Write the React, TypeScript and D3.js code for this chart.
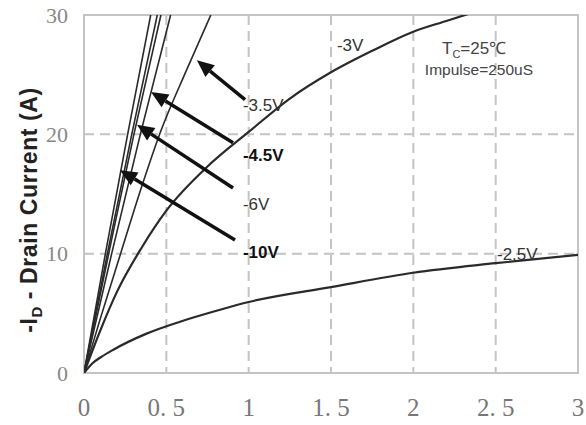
import React from "react";
import * as d3 from "d3";

// ---- data ----
const xTicks = [0, 0.5, 1, 1.5, 2, 2.5, 3];
const xTickLabels = ["0", "0. 5", "1", "1. 5", "2", "2. 5", "3"];
const yTicks = [0, 10, 20, 30];
const yTickLabels = ["0", "10", "20", "30"];

const vds10 = [0, 0.13, 0.265, 0.405];
const id10 = [0, 10, 20, 30];
const vds8 = [0, 0.142, 0.29, 0.445];
const id8 = [0, 10, 20, 30];
const vds6 = [0, 0.15, 0.303, 0.467];
const id6 = [0, 10, 20, 30];
const vds45 = [0, 0.168, 0.342, 0.526];
const id45 = [0, 10, 20, 30];
const vds35 = [0, 0.1, 0.229, 0.35, 0.47, 0.62, 0.77];
const id35 = [0, 4.6, 10.3, 15.6, 20.4, 25.3, 30];
const vds3 = [0, 0.1, 0.2, 0.35, 0.5, 0.75, 1, 1.25, 1.5, 1.75, 2, 2.2, 2.36];
const id3 = [0, 3.6, 6.8, 10.5, 13.6, 17.3, 20.2, 23.0, 25.2, 27.0, 28.6, 29.5, 30.2];
const vds25 = [0, 0.05, 0.1, 0.178, 0.38, 0.583, 0.826, 1, 1.5, 2, 2.5, 3];
const id25 = [0, 0.8, 1.3, 1.95, 3.3, 4.3, 5.3, 5.95, 7.2, 8.4, 9.2, 9.9];

const series = [
  { name: "-10V", x: vds10, y: id10 },
  { name: "-8V", x: vds8, y: id8 },
  { name: "-6V", x: vds6, y: id6 },
  { name: "-4.5V", x: vds45, y: id45 },
  { name: "-3.5V", x: vds35, y: id35 },
  { name: "-3V", x: vds3, y: id3 },
  { name: "-2.5V", x: vds25, y: id25 },
];

// arrows: tail (x,y) -> head (x,y) in data units
const arrowNames = ["-3.5V", "-4.5V", "-6V", "-10V"];
const arrowTailX = [0.978, 0.905, 0.905, 0.917];
const arrowTailY = [22.9, 19.3, 15.5, 11.15];
const arrowHeadX = [0.686, 0.407, 0.322, 0.219];
const arrowHeadY = [26.2, 23.55, 20.8, 17.0];

// curve labels
const labelText = ["-3.5V", "-4.5V", "-6V", "-10V", "-3V", "-2.5V"];
const labelBold = [false, true, false, true, false, false];
const labelX = [0.965, 0.965, 0.965, 0.965, 1.536, 2.508];
const labelY = [21.96, 17.77, 13.66, 9.64, 26.99, 9.47];

const W = 586;
const H = 425;
const X0 = 84, X1 = 578, Y0 = 373, Y1 = 15;

export default function App() {
  const x = d3.scaleLinear().domain([0, 3]).range([X0, X1]);
  const y = d3.scaleLinear().domain([0, 30]).range([Y0, Y1]);

  const line = d3
    .line<[number, number]>()
    .x((d) => x(d[0]))
    .y((d) => y(d[1]))
    .curve(d3.curveMonotoneX);

  const grid = "#c4c4c4";
  const sans = "'Liberation Sans', Arial, sans-serif";
  const serif = "'Liberation Serif', 'Times New Roman', serif";

  const arrows = arrowNames.map((n, i) => {
    const tx = x(arrowTailX[i]), ty = y(arrowTailY[i]);
    const hx = x(arrowHeadX[i]), hy = y(arrowHeadY[i]);
    const dx = hx - tx, dy = hy - ty;
    const len = Math.hypot(dx, dy);
    const ux = dx / len, uy = dy / len;
    const L = 17, Wd = 7.5;
    const bx = hx - ux * L, by = hy - uy * L;
    const px = -uy, py = ux;
    const tri = `M${hx},${hy}L${bx + px * Wd},${by + py * Wd}L${bx - px * Wd},${by - py * Wd}Z`;
    return { n, tx, ty, bx, by, tri };
  });

  return (
    <svg
      width={W}
      height={H}
      style={{ position: "absolute", left: 0, top: 0, background: "#fff" }}
    >
      <defs>
        <clipPath id="plot">
          <rect x={X0} y={Y1} width={X1 - X0} height={Y0 - Y1} />
        </clipPath>
      </defs>
      <rect x={0} y={0} width={W} height={H} fill="#fff" />
      {/* grid */}
      {xTicks.slice(1, -1).map((t) => (
        <line
          key={"gx" + t}
          x1={x(t)}
          x2={x(t)}
          y1={Y1}
          y2={Y0}
          stroke={grid}
          strokeWidth={2}
          strokeDasharray="10,6"
        />
      ))}
      {yTicks.slice(1, -1).map((t) => (
        <line
          key={"gy" + t}
          x1={X0}
          x2={X1}
          y1={y(t)}
          y2={y(t)}
          stroke={grid}
          strokeWidth={2}
          strokeDasharray="10,6"
        />
      ))}
      <rect
        x={X0}
        y={Y1}
        width={X1 - X0}
        height={Y0 - Y1}
        fill="none"
        stroke={grid}
        strokeWidth={2}
      />
      {/* curves */}
      <g clipPath="url(#plot)">
        {series.map((s) => (
          <path
            key={s.name}
            d={line(s.x.map((v, i) => [v, s.y[i]] as [number, number])) || ""}
            fill="none"
            stroke="#2a2a2a"
            strokeWidth={s.name === "-3V" || s.name === "-2.5V" ? 2.2 : 1.6}
          />
        ))}
      </g>
      {/* arrows */}
      {arrows.map((a) => (
        <g key={"ar" + a.n}>
          <line x1={a.tx} y1={a.ty} x2={a.bx} y2={a.by} stroke="#111" strokeWidth={3.5} />
          <path d={a.tri} fill="#111" />
        </g>
      ))}
      {/* curve labels */}
      {labelText.map((t, i) => (
        <text
          key={"lb" + t}
          x={x(labelX[i])}
          y={y(labelY[i])}
          fontFamily={sans}
          fontSize={17}
          fontWeight={labelBold[i] ? "bold" : "normal"}
          fill={labelBold[i] ? "#111" : "#333"}
        >
          {t}
        </text>
      ))}
      {/* conditions */}
      <text x={x(2.174)} y={y(26.74)} fontFamily={sans} fontSize={17} fill="#444">
        T<tspan fontSize={11} dy={4}>C</tspan>
        <tspan dy={-4}>=25℃</tspan>
      </text>
      <text x={x(2.07)} y={y(24.98)} fontFamily={sans} fontSize={15.5} fill="#444">
        Impulse=250uS
      </text>
      {/* tick labels */}
      {yTicks.map((t, i) => (
        <text
          key={"yt" + t}
          x={68}
          y={y(t)}
          dy="0.35em"
          textAnchor="end"
          fontFamily={serif}
          fontSize={22}
          fill="#888"
        >
          {yTickLabels[i]}
        </text>
      ))}
      {xTicks.map((t, i) => (
        <text
          key={"xt" + t}
          x={x(t)}
          y={416}
          textAnchor="middle"
          fontFamily={serif}
          fontSize={25}
          fill="#777"
        >
          {xTickLabels[i]}
        </text>
      ))}
      {/* y axis title */}
      <text
        transform={`translate(37,210) rotate(-90)`}
        textAnchor="middle"
        fontFamily={sans}
        fontSize={23}
        fontWeight="bold"
        letterSpacing={0.6}
        fill="#222"
      >
        -I<tspan fontSize={15} dy={5}>D</tspan>
        <tspan dy={-5}> - Drain Current (A)</tspan>
      </text>
    </svg>
  );
}
